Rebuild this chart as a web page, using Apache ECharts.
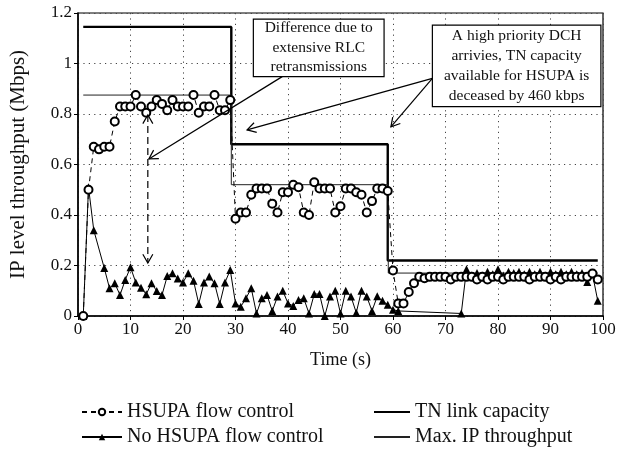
<!DOCTYPE html>
<html>
<head>
<meta charset="utf-8">
<script src="https://cdn.jsdelivr.net/npm/echarts@6/dist/echarts.min.js"></script>
<style>html,body{margin:0;padding:0;background:#fff}#c{width:619px;height:452px}</style>
</head>
<body>
<div id="c"></div>
<script>
// ---- data ----
const hsupaTime = [1,2,3,4,5,6,7,8,9,10,11,12,13,14,15,16,17,18,19,20,21,22,23,24,25,26,27,28,29,30,31,32,33,34,35,36,37,38,39,40,41,42,43,44,45,46,47,48,49,50,51,52,53,54,55,56,57,58,59,60,61,62,63,64,65,66,67,68,69,70,71,72,73,74,75,76,77,78,79,80,81,82,83,84,85,86,87,88,89,90,91,92,93,94,95,96,97,98,99];
const hsupaValue = [0,0.5,0.67,0.66,0.67,0.67,0.77,0.83,0.83,0.83,0.875,0.83,0.805,0.83,0.855,0.84,0.815,0.855,0.83,0.83,0.83,0.875,0.805,0.83,0.83,0.875,0.815,0.815,0.855,
  0.385,0.41,0.41,0.48,0.505,0.505,0.505,0.445,0.41,0.49,0.49,0.52,0.51,0.41,0.4,0.53,0.505,0.505,0.505,0.41,0.435,0.505,0.505,0.49,0.48,0.41,0.455,0.505,0.505,0.495,
  0.18,0.05,0.05,0.095,0.13,0.155,0.15,0.155,0.155,0.155,0.155,0.145,0.155,0.155,0.155,0.155,0.145,0.155,0.145,0.155,0.155,0.145,0.155,0.155,0.155,0.155,0.145,0.155,0.155,0.155,0.145,0.155,0.145,0.155,0.155,0.155,0.155,0.155,0.168,0.145];

const noFcTime = [1,2,3,5,6,7,8,9,10,11,12,13,14,15,16,17,18,19,20,21,22,23,24,25,26,27,28,29,30,31,32,33,34,35,36,37,38,39,40,41,42,43,44,45,46,47,48,49,50,51,52,53,54,55,56,57,58,59,60,61,73,74,75,76,77,78,79,80,81,82,83,84,85,86,87,88,89,90,91,92,93,94,95,96,97,98,99];
const noFcValue = [0,0.51,0.34,0.19,0.11,0.13,0.083,0.143,0.193,0.133,0.112,0.086,0.13,0.099,0.083,0.158,0.169,0.149,0.133,0.169,0.14,0.048,0.133,0.156,0.13,0.048,0.133,0.182,
  0.05,0.037,0.07,0.11,0.01,0.07,0.083,0.02,0.077,0.1,0.05,0.04,0.063,0.07,0.01,0.087,0.087,0,0.077,0.1,0.01,0.1,0.077,0.013,0.1,0.077,0.02,0.078,0.06,0.045,0.025,0.02,
  0.01,0.185,0.16,0.17,0.16,0.175,0.165,0.185,0.16,0.175,0.17,0.175,0.165,0.175,0.165,0.175,0.16,0.175,0.165,0.175,0.165,0.175,0.165,0.17,0.135,0.165,0.06];

const tnTime = [1,29.2,29.2,59,59,99];
const tnValue = [1.145,1.145,0.68,0.68,0.22,0.22];

const maxIpTime = [1,29.2,29.2,59.1,59.1,99];
const maxIpValue = [0.875,0.875,0.52,0.52,0.17,0.17];

const xTicks = [0,10,20,30,40,50,60,70,80,90,100];
const yTicks = [0,0.2,0.4,0.6,0.8,1,1.2];

const seriesNames = ['HSUPA flow control','No HSUPA flow control','TN link capacity','Max. IP throughput'];
const box1Lines = ['Difference due to','extensive RLC','retransmissions'];
const box2Lines = ['A high priority DCH','arrivies, TN capacity','available for HSUPA is','deceased by 460 kbps'];
const xName = 'Time (s)';
const yName = 'IP level throughput (Mbps)';

// ---- chart ----
const zip = (a,b) => a.map((v,i)=>[v,b[i]]);
const FONT = '"Liberation Serif", "DejaVu Serif", serif';
const chart = echarts.init(document.getElementById('c'), null, {renderer:'canvas'});

const gridLine = {show:true, lineStyle:{color:'#444', type:[1.2,4.2], width:1}};
const legendText = {fontFamily:FONT, fontSize:20, color:'#111'};
const mkLegend = (name, left, top, w, hideSymbol) => ({left, top, orient:'horizontal', itemWidth:w, itemHeight:8, itemGap:0,
  data:[name], textStyle:legendText, selectedMode:false,
  itemStyle: hideSymbol ? {color:'rgba(0,0,0,0)', borderWidth:0} : undefined});
chart.setOption({
  animation:false,
  backgroundColor:'#fff',
  grid:{left:78, right:16, top:13, bottom:136, show:true, borderColor:'#000', borderWidth:1.2, backgroundColor:'transparent'},
  xAxis:{type:'value', min:xTicks[0], max:xTicks[xTicks.length-1], interval:10,
    name:xName, nameLocation:'middle', nameGap:35,
    nameTextStyle:{fontFamily:FONT, fontSize:18, color:'#111'},
    axisLine:{lineStyle:{color:'#000', width:1.5}},
    axisTick:{show:true, inside:false, length:4, lineStyle:{color:'#000'}},
    axisLabel:{fontFamily:FONT, fontSize:17, color:'#111', margin:5},
    splitLine:gridLine},
  yAxis:{type:'value', min:yTicks[0], max:yTicks[yTicks.length-1], interval:0.2,
    name:yName, nameLocation:'middle', nameGap:49,
    nameTextStyle:{fontFamily:FONT, fontSize:21, color:'#111'},
    axisLine:{show:true, lineStyle:{color:'#000', width:1.5}},
    axisTick:{show:true, inside:false, length:4, lineStyle:{color:'#000'}},
    axisLabel:{fontFamily:FONT, fontSize:17, color:'#111', margin:6,
      formatter:v=>String(Math.round(v*10)/10)},
    splitLine:gridLine},
  legend:[
    mkLegend(seriesNames[0], 76, 397, 40, false),
    mkLegend(seriesNames[1], 76, 422, 40, false),
    mkLegend(seriesNames[2], 368, 397, 36, true),
    mkLegend(seriesNames[3], 368, 422, 36, true)
  ],
  series:[
    {name:seriesNames[2], type:'line', data:zip(tnTime,tnValue), symbol:'none', z:2,
     lineStyle:{color:'#000', width:2.4}, itemStyle:{color:'#000'}},
    {name:seriesNames[3], type:'line', data:zip(maxIpTime,maxIpValue), symbol:'none', z:2,
     lineStyle:{color:'#222', width:1}, itemStyle:{color:'#222'}},
    {name:seriesNames[1], type:'line', data:zip(noFcTime,noFcValue), symbol:'triangle', symbolSize:8, z:3,
     showAllSymbol:true,
     lineStyle:{color:'#000', width:1}, itemStyle:{color:'#000'}},
    {name:seriesNames[0], type:'line', data:zip(hsupaTime,hsupaValue), symbol:'emptyCircle', symbolSize:8, z:4,
     showAllSymbol:true,
     lineStyle:{color:'#000', width:1, type:[5,4]}, itemStyle:{color:'#000', borderWidth:1}}
  ]
});

// ---- annotations (positioned in data coordinates) ----
const box1 = {x0:33.4, y0:1.176, x1:58.3, y1:0.948};
const box2 = {x0:67.5, y0:1.152, x1:99.6, y1:0.829};
const arrow1 = {from:[38.9,0.948], to:[13.5,0.622]};
const arrow2a = {from:[67.5,0.941], to:[32.2,0.737]};
const arrow2b = {from:[67.5,0.941], to:[59.6,0.749]};
const dbl = {x:13.3, yTop:0.796, yBot:0.21};

const P = p => chart.convertToPixel({gridIndex:0}, p);
const g = [];
function head(tail, tip){
  const dx = tip[0]-tail[0], dy = tip[1]-tail[1];
  const L = Math.hypot(dx,dy), ux = dx/L, uy = dy/L;
  const len = 10, a = Math.PI/6;
  const c = Math.cos(a), s = Math.sin(a);
  const b1 = [tip[0] - len*(ux*c - uy*s), tip[1] - len*(uy*c + ux*s)];
  const b2 = [tip[0] - len*(ux*c + uy*s), tip[1] - len*(uy*c - ux*s)];
  g.push({type:'polyline', shape:{points:[b1,tip,b2]}, style:{stroke:'#000', lineWidth:1.2, fill:null}, z:20});
}
function arrow(a){
  const p0 = P(a.from), p1 = P(a.to);
  g.push({type:'line', shape:{x1:p0[0],y1:p0[1],x2:p1[0],y2:p1[1]}, style:{stroke:'#000', lineWidth:1.2}, z:20});
  head(p0,p1);
}
function box(b, lines, lh){
  const p0 = P([b.x0,b.y0]), p1 = P([b.x1,b.y1]);
  g.push({type:'rect', shape:{x:p0[0], y:p0[1], width:p1[0]-p0[0], height:p1[1]-p0[1]},
    style:{fill:'#fff', stroke:'#000', lineWidth:1.2}, z:21});
  const cx = (p0[0]+p1[0])/2, cy = (p0[1]+p1[1])/2;
  const n = lines.length;
  lines.forEach((t,i)=>{
    g.push({type:'text', x:cx, y:cy + (i-(n-1)/2)*lh, z:22,
      style:{text:t, fontFamily:FONT, fontSize:15.5, fill:'#111', align:'center', verticalAlign:'middle'}});
  });
}
arrow(arrow1);
arrow(arrow2a);
arrow(arrow2b);
{
  const t = P([dbl.x, dbl.yTop]), b = P([dbl.x, dbl.yBot]);
  g.push({type:'line', shape:{x1:t[0],y1:t[1],x2:b[0],y2:b[1]}, style:{stroke:'#000', lineWidth:1.2, lineDash:[7,4]}, z:20});
  head(b,t); head(t,b);
}
box(box1, box1Lines, 19.5);
box(box2, box2Lines, 20);
chart.setOption({graphic:g});
</script>
</body>
</html>
